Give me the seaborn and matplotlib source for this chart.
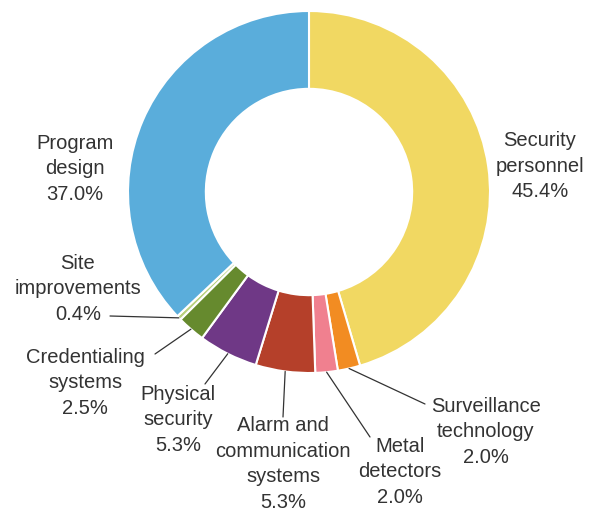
import matplotlib
matplotlib.use("Agg")
import matplotlib.pyplot as plt
import seaborn as sns
import numpy as np

categories = ["Security\npersonnel", "Surveillance\ntechnology", "Metal\ndetectors",
              "Alarm and\ncommunication\nsystems", "Physical\nsecurity",
              "Credentialing\nsystems", "Site\nimprovements", "Program\ndesign"]
values = [45.4, 2.0, 2.0, 5.3, 5.3, 2.5, 0.4, 37.0]
colors = ["#f1d862", "#f28c22", "#f0808f", "#b5402a", "#6f3886", "#668a2e", "#b9d07c", "#5aaddb"]

# label anchor (pixel coords) and leader-line end (pixel coords, None = no line)
label_pos = [(540, 166), (486, 432), (400, 472), (283, 464), (178, 420),
             (85, 383), (78, 289), (75, 169)]
line_end = [None, (425, 405), (370, 438), (283, 418), (205, 385),
            (155, 355), (110, 317), None]

sns.set_theme(style="white")
plt.rcParams['font.family'] = ['Liberation Sans', 'DejaVu Sans']

W, H = 590, 510
fig = plt.figure(figsize=(W / 100, H / 100), dpi=100)
ax = fig.add_axes([0, 0, 1, 1])

cx, cy, R = 309, 193, 181
def Y(py):
    return H - py

wedges, _ = ax.pie(values, colors=colors, startangle=90, counterclock=False,
                   center=(cx, Y(cy)), radius=R,
                   wedgeprops=dict(width=R * 0.43, edgecolor="white", linewidth=1.5))
ax.set_xlim(0, W)
ax.set_ylim(0, H)
ax.set_aspect("equal")
ax.axis("off")

total = sum(values)
cum = 0
for i, v in enumerate(values):
    mid = (cum + v / 2) / total * 360
    cum += v
    tx, ty = label_pos[i]
    ax.text(tx, Y(ty), f"{categories[i]}\n{v:.1f}%", ha="center", va="center",
            fontsize=14.5, color="#333333", linespacing=1.43)
    if line_end[i] is not None:
        sx = cx + R * np.sin(np.radians(mid))
        sy = cy - R * np.cos(np.radians(mid))
        ex, ey = line_end[i]
        ax.plot([sx, ex], [Y(sy), Y(ey)], color="#333333", lw=0.9)

fig.savefig("out.png", dpi=100)
